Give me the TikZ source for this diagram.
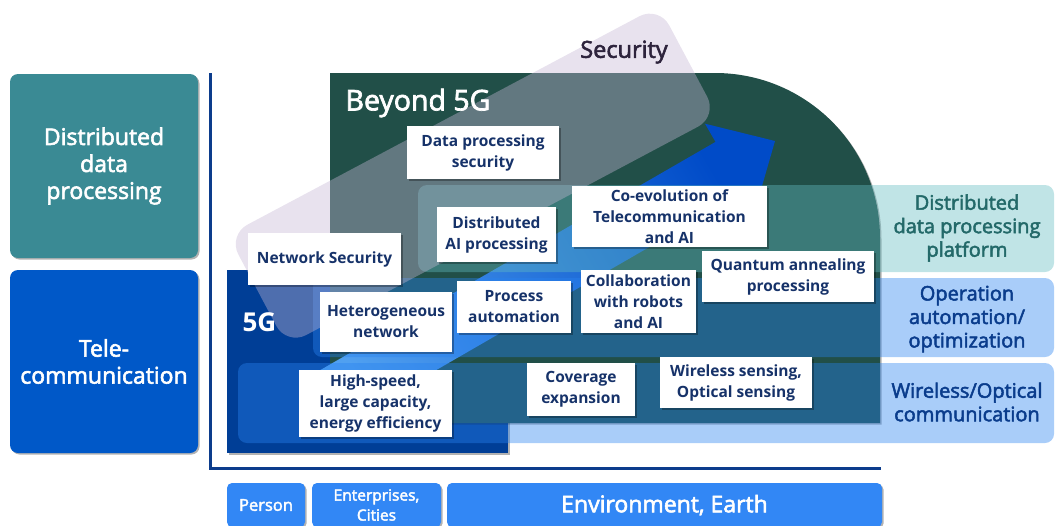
\documentclass[tikz,border=0pt]{standalone}
\usepackage{fontspec}
\setmainfont{Open Sans}
\newfontfamily\semifont{Open Sans}[FakeBold=2.5]
\usetikzlibrary{shadows}
\definecolor{ddteal}{RGB}{58,138,148}
\definecolor{teleblue}{RGB}{0,88,200}
\definecolor{axisblue}{RGB}{12,60,140}
\definecolor{fiveg}{RGB}{0,62,150}
\definecolor{bgreen}{RGB}{33,79,72}
\definecolor{tealband}{RGB}{98,187,192}
\definecolor{blueband}{RGB}{40,130,240}
\definecolor{secband}{RGB}{197,182,212}
\definecolor{navy}{RGB}{22,50,105}
\definecolor{tealtext}{RGB}{35,105,105}
\definecolor{bluetext}{RGB}{10,60,140}
\definecolor{sectext}{RGB}{45,35,60}
\definecolor{arrowlight}{RGB}{80,160,240}
\definecolor{arrowdark}{RGB}{0,75,200}
\definecolor{bottomblue}{RGB}{50,135,245}
\newcommand\myfs[2]{\fontsize{#1}{#2}\selectfont}
\begin{document}
\begin{tikzpicture}[x=1pt,y=-1pt,
  shad/.style={drop shadow={shadow xshift=1.5pt,shadow yshift=-1.5pt,opacity=0.3,fill=black}},
  leftbox/.style={rounded corners=8pt, text=white, align=center, inner sep=0pt, shad, font=\semifont\myfs{23}{27}},
  wbox/.style={fill=white, text=navy, align=center, inner sep=0pt, shad, font=\bfseries\myfs{15.5}{21}},
  band/.style={fill opacity=0.4, rounded corners=9pt},
  rlabel/.style={align=center, font=\semifont\myfs{20}{23.5}},
  botbox/.style={fill=bottomblue, rounded corners=5pt, text=white, align=center, inner sep=0pt, shad}
]
\useasboundingbox (0,0) rectangle (1055,525);

% left category boxes
\node[leftbox, fill=ddteal, minimum width=188pt, minimum height=184pt] (ldp) at (104,166) {Distributed\\data\\processing};
\node[leftbox, fill=teleblue, minimum width=188pt, minimum height=183pt] (ltel) at (104,361.5) {Tele-\\communication};

% axis
\coordinate (ax0) at (210,73);
\coordinate (ax1) at (210,468);
\coordinate (ax2) at (881,468);
\draw[axisblue, line width=3pt] (ax0) -- (ax1) -- (ax2);

% 5G block
\fill[fiveg, shad] (227,270) rectangle (508,453);

% Beyond 5G block
\fill[bgreen, shad] (330,73) -- (715,73) arc[start angle=-90, end angle=0, radius=165] -- (880,423) -- (330,423) -- cycle;

% blue arrow
\shade[top color=arrowdark, bottom color=arrowlight, shading angle=-60]
  (775,141) -- (705,123.7) -- (715.5,141.9) -- (299.8,381.9) -- (328.8,432.1) -- (744.5,192.1) -- (755,210.3) -- cycle;

% translucent layer bands
\fill[tealband, band] (418,185) rectangle (1054,272);
\fill[blueband, band] (313,278) rectangle (1054,357);
\fill[blueband, band] (238,363) rectangle (1054,443);

% security band
\begin{scope}[shift={(228,235)}, rotate=28]
  \fill[secband, fill opacity=0.4, rounded corners=22pt] (0,0) rectangle (488,125);
\end{scope}

% titles
\node[text=sectext, font=\semifont\myfs{23.5}{28}] (sec) at (624,52) {Security};
\node[anchor=west, text=white, font=\semifont\myfs{28.5}{32}] (b5g) at (342,103) {Beyond 5G};
\node[anchor=west, text=white, font=\bfseries\myfs{26}{30}] (fg) at (239,322) {5G};

% right labels
\node[rlabel, text=tealtext] (rdp) at (967,228) {Distributed\\data processing\\platform};
\node[rlabel, text=bluetext] (rop) at (967,319) {Operation\\automation/\\optimization};
\node[rlabel, text=bluetext] (rwo) at (967,402) {Wireless/Optical\\communication};

% white boxes
\node[wbox, minimum width=152pt, minimum height=53pt] (dps) at (483,152.5) {Data processing\\security};
\node[wbox, minimum width=119pt, minimum height=55pt] (dai) at (496.5,234.5) {Distributed\\AI processing};
\node[wbox, minimum width=195pt, minimum height=61pt] (coev) at (669.5,216.5) {Co-evolution of\\Telecommunication\\and AI};
\node[wbox, minimum width=153pt, minimum height=52pt] (nsec) at (324.5,259) {Network Security};
\node[wbox, minimum width=132pt, minimum height=60pt] (het) at (386,322) {Heterogeneous\\network};
\node[wbox, minimum width=114pt, minimum height=52pt] (proc) at (514,307) {Process\\automation};
\node[wbox, minimum width=115pt, minimum height=63pt] (collab) at (638.5,301.5) {Collaboration\\with robots\\and AI};
\node[wbox, minimum width=172pt, minimum height=51pt] (quant) at (788,276.5) {Quantum annealing\\processing};
\node[wbox, minimum width=153pt, minimum height=67pt] (hs) at (375.5,403.5) {High-speed,\\large capacity,\\energy efficiency};
\node[wbox, minimum width=108pt, minimum height=53pt] (cov) at (581,389.5) {Coverage\\expansion};
\node[wbox, minimum width=152pt, minimum height=51pt] (wls) at (736,382.5) {Wireless sensing,\\Optical sensing};

% bottom boxes
\node[botbox, minimum width=78pt, minimum height=44pt, font=\semifont\myfs{16.5}{20}] (per) at (266,505) {Person};
\node[botbox, minimum width=129pt, minimum height=44pt, font=\semifont\myfs{15.5}{20}] (ent) at (376.5,505) {Enterprises,\\Cities};
\node[botbox, minimum width=435pt, minimum height=44pt, font=\semifont\myfs{23}{26}] (env) at (664.5,505) {Environment, Earth};
\end{tikzpicture}
\end{document}
